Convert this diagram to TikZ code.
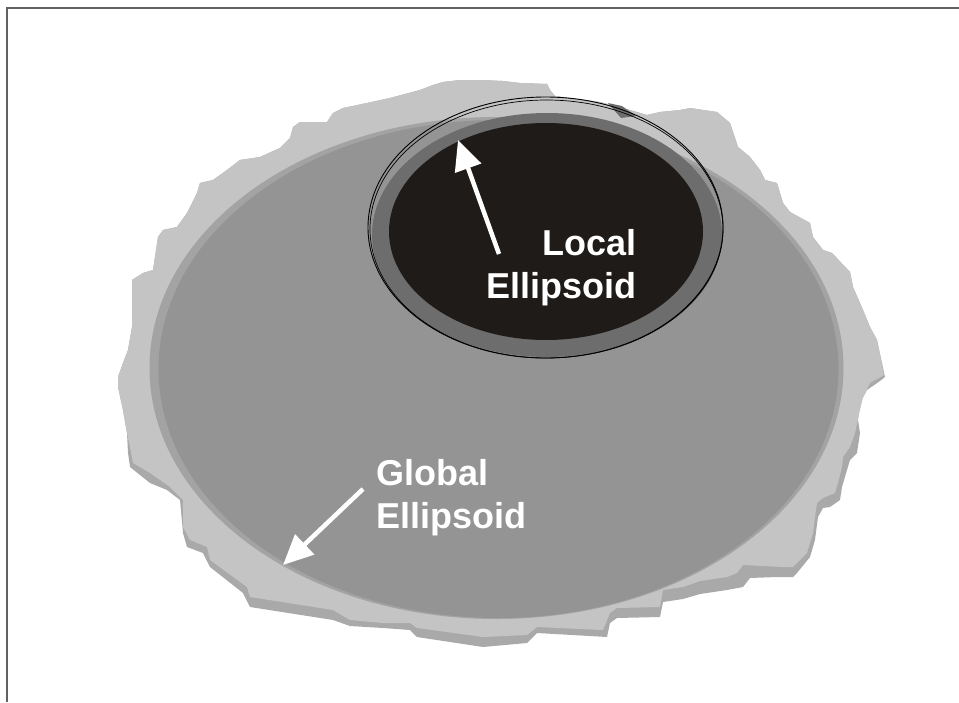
\documentclass[tikz,border=0pt]{standalone}
\usepackage{fontspec}
\setmainfont{Liberation Sans}
\usetikzlibrary{arrows.meta}

\definecolor{landlight}{HTML}{C4C4C4}
\definecolor{landshadow}{HTML}{A9A9A9}
\definecolor{globalrim}{HTML}{A3A3A3}
\definecolor{globalfill}{HTML}{949494}
\definecolor{localring}{HTML}{6D6D6D}
\definecolor{localcore}{HTML}{1F1B18}
\definecolor{framegray}{HTML}{626262}

\tikzset{
  frameline/.style={draw=framegray, line width=2pt},
  pointer/.style={draw=white, line width=4.5pt,
    -{Triangle[length=30pt,width=27pt,fill=white]}},
  caption/.style={text=white, inner sep=0pt,
    font=\fontsize{36pt}{43pt}\selectfont\bfseries},
}

\begin{document}
\begin{tikzpicture}[x=1pt, y=-1pt]
\useasboundingbox (0,0) rectangle (959,702);

% open frame: top and left edges only
\draw[frameline] (7,702) -- (7,7.5) -- (959,7.5);

% landmass: darker underside first
\fill[landshadow]
  (132,327) -- (132,280) -- (143,273) -- (153,270) -- (158,237) -- (163,230)
  -- (177,227) -- (187,213) -- (197,193) -- (200,183) -- (213,180) -- (227,170)
  -- (240,160) -- (260,157) -- (280,148) -- (290,138) -- (293,127) -- (300,122)
  -- (327,122) -- (333,113) -- (343,108) -- (367,103) -- (390,98) -- (420,90)
  -- (433,85) -- (443,82) -- (460,80) -- (480,80) -- (503,81) -- (520,83)
  -- (547,84) -- (550,90) -- (555,96) -- (600,102) -- (630,110) -- (647,115)
  -- (660,112) -- (680,110) -- (690,108) -- (717,112) -- (730,123) -- (738,147)
  -- (750,157) -- (760,170) -- (765,180) -- (777,183) -- (783,203) -- (790,212)
  -- (810,223) -- (813,237) -- (823,250) -- (832,253) -- (850,272) -- (853,287)
  -- (863,310) -- (870,327) -- (877,340) -- (885,377)
  -- (880,381) -- (867,390) -- (860,403) -- (858,420) -- (860,433) -- (857,453)
  -- (850,460) -- (847,470) -- (842,487) -- (840,500) -- (830,507) -- (823,508)
  -- (818,517) -- (815,540) -- (810,557) -- (797,573) -- (793,577) -- (777,577)
  -- (750,578) -- (743,587) -- (727,590) -- (700,594) -- (683,599) -- (663,602)
  -- (660,617) -- (617,618) -- (610,623) -- (607,637) -- (537,633) -- (527,643)
  -- (483,647) -- (417,637) -- (410,630) -- (383,628) -- (350,626) -- (333,620)
  -- (250,607) -- (243,593) -- (210,567) -- (203,553) -- (187,547) -- (183,533)
  -- (180,500) -- (167,490) -- (150,483) -- (130,467) -- (128,453) -- (127,433)
  -- (123,410) -- (118,387) -- (118,377) -- (123,363) -- (128,350) -- cycle;

% landmass: lit upper surface
\fill[landlight]
  (132,327) -- (132,280) -- (143,273) -- (153,270) -- (158,237) -- (163,230)
  -- (177,227) -- (187,213) -- (197,193) -- (200,183) -- (213,180) -- (227,170)
  -- (240,160) -- (260,157) -- (280,148) -- (290,138) -- (293,127) -- (300,122)
  -- (327,122) -- (333,113) -- (343,108) -- (367,103) -- (390,98) -- (420,90)
  -- (433,85) -- (443,82) -- (460,80) -- (480,80) -- (503,81) -- (520,83)
  -- (547,84) -- (550,90) -- (555,96) -- (600,102) -- (630,110) -- (647,115)
  -- (660,112) -- (680,110) -- (690,108) -- (717,112) -- (730,123) -- (738,147)
  -- (750,157) -- (760,170) -- (765,180) -- (777,183) -- (783,203) -- (790,212)
  -- (810,223) -- (813,237) -- (823,250) -- (832,253) -- (850,272) -- (853,287)
  -- (863,310) -- (870,327) -- (877,340) -- (884,375)
  -- (870,383) -- (863,397) -- (860,410) -- (855,433) -- (850,447) -- (843,457)
  -- (842,467) -- (838,483) -- (835,493) -- (823,498) -- (817,503) -- (815,517)
  -- (813,533) -- (807,553) -- (793,567) -- (783,567) -- (743,565) -- (737,573)
  -- (727,577) -- (700,581) -- (683,587) -- (663,590) -- (660,607) -- (617,608)
  -- (610,613) -- (603,630) -- (537,627) -- (527,635) -- (483,637) -- (417,628)
  -- (410,623) -- (383,623) -- (350,620) -- (333,610) -- (250,597) -- (247,587)
  -- (210,560) -- (207,547) -- (190,540) -- (183,527) -- (183,500) -- (170,487)
  -- (150,473) -- (133,463) -- (130,447) -- (127,433)
  -- (123,410) -- (118,387) -- (118,377) -- (123,363) -- (128,350) -- cycle;

% global ellipsoid with its lighter rim
\fill[globalrim] (496.5,368) ellipse [x radius=347pt, y radius=251pt];
\fill[globalfill] (498.5,369) ellipse [x radius=340pt, y radius=249pt];

% local ellipsoid
\fill[localring] (547,235) ellipse [x radius=175pt, y radius=122pt];
\fill[localring] (608,103) -- (622,106) -- (636,116) -- (621,118) -- (614,110) -- cycle;
\fill[localcore] (546,231.5) ellipse [x radius=157pt, y radius=108.5pt];
\draw[black, line width=0.9pt] (545.5,227.5) ellipse [x radius=177.5pt, y radius=130.5pt];
\draw[black, line width=0.7pt] (546.5,229) ellipse [x radius=176.5pt, y radius=129pt];

% labels (base anchor sits on the last line)
\node[caption, anchor=base east, align=right] (localtxt) at (637,298) {Local\\Ellipsoid};
\node[caption, anchor=base west, align=left] (globaltxt) at (376,528) {Global\\Ellipsoid};

% pointer arrows
\coordinate (localtail) at (499,254);
\coordinate (localtip) at (458,140);
\coordinate (globaltail) at (363,489);
\coordinate (globaltip) at (283,565);
\draw[pointer] (localtail) -- (localtip);
\draw[pointer] (globaltail) -- (globaltip);
\end{tikzpicture}
\end{document}
